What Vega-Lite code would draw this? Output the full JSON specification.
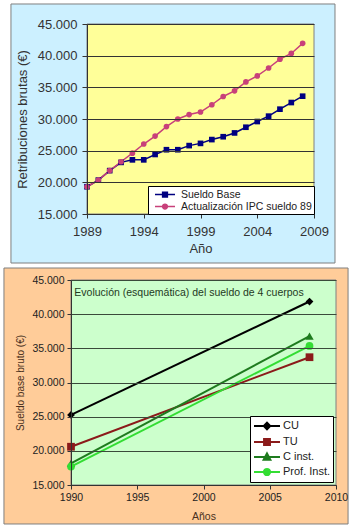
{
  "$schema": "https://vega.github.io/schema/vega-lite/v6.json",
  "background": "white",
  "padding": {"left": 3, "top": 3, "right": 0, "bottom": 0},
  "autosize": {"type": "pad"},
  "spacing": 3,
  "bounds": "full",
  "config": {"view": {"stroke": null}, "font": "Liberation Sans"},
  "resolve": {
    "scale": {"color": "independent", "x": "independent", "y": "independent", "strokeWidth": "independent"},
    "legend": {"color": "independent"}
  },
  "datasets": {
    "retrib": [
      {"year": 1989, "serie": "Sueldo Base", "value": 19300},
      {"year": 1990, "serie": "Sueldo Base", "value": 20350},
      {"year": 1991, "serie": "Sueldo Base", "value": 21850},
      {"year": 1992, "serie": "Sueldo Base", "value": 23150},
      {"year": 1993, "serie": "Sueldo Base", "value": 23550},
      {"year": 1994, "serie": "Sueldo Base", "value": 23550},
      {"year": 1995, "serie": "Sueldo Base", "value": 24400},
      {"year": 1996, "serie": "Sueldo Base", "value": 25150},
      {"year": 1997, "serie": "Sueldo Base", "value": 25150},
      {"year": 1998, "serie": "Sueldo Base", "value": 25800},
      {"year": 1999, "serie": "Sueldo Base", "value": 26150},
      {"year": 2000, "serie": "Sueldo Base", "value": 26750},
      {"year": 2001, "serie": "Sueldo Base", "value": 27200},
      {"year": 2002, "serie": "Sueldo Base", "value": 27800},
      {"year": 2003, "serie": "Sueldo Base", "value": 28700},
      {"year": 2004, "serie": "Sueldo Base", "value": 29600},
      {"year": 2005, "serie": "Sueldo Base", "value": 30450},
      {"year": 2006, "serie": "Sueldo Base", "value": 31550},
      {"year": 2007, "serie": "Sueldo Base", "value": 32600},
      {"year": 2008, "serie": "Sueldo Base", "value": 33600},
      {"year": 1989, "serie": "Actualización IPC sueldo 89", "value": 19300},
      {"year": 1990, "serie": "Actualización IPC sueldo 89", "value": 20350},
      {"year": 1991, "serie": "Actualización IPC sueldo 89", "value": 21850},
      {"year": 1992, "serie": "Actualización IPC sueldo 89", "value": 23250},
      {"year": 1993, "serie": "Actualización IPC sueldo 89", "value": 24600},
      {"year": 1994, "serie": "Actualización IPC sueldo 89", "value": 26050},
      {"year": 1995, "serie": "Actualización IPC sueldo 89", "value": 27300},
      {"year": 1996, "serie": "Actualización IPC sueldo 89", "value": 28800},
      {"year": 1997, "serie": "Actualización IPC sueldo 89", "value": 30000},
      {"year": 1998, "serie": "Actualización IPC sueldo 89", "value": 30700},
      {"year": 1999, "serie": "Actualización IPC sueldo 89", "value": 31100},
      {"year": 2000, "serie": "Actualización IPC sueldo 89", "value": 32250},
      {"year": 2001, "serie": "Actualización IPC sueldo 89", "value": 33550},
      {"year": 2002, "serie": "Actualización IPC sueldo 89", "value": 34450},
      {"year": 2003, "serie": "Actualización IPC sueldo 89", "value": 35850},
      {"year": 2004, "serie": "Actualización IPC sueldo 89", "value": 36800},
      {"year": 2005, "serie": "Actualización IPC sueldo 89", "value": 38050},
      {"year": 2006, "serie": "Actualización IPC sueldo 89", "value": 39450},
      {"year": 2007, "serie": "Actualización IPC sueldo 89", "value": 40350},
      {"year": 2008, "serie": "Actualización IPC sueldo 89", "value": 41950}
    ],
    "cuerpos": [
      {"year": 1990, "cuerpo": "CU", "value": 25250},
      {"year": 2008, "cuerpo": "CU", "value": 41850},
      {"year": 1990, "cuerpo": "TU", "value": 20600},
      {"year": 2008, "cuerpo": "TU", "value": 33700},
      {"year": 1990, "cuerpo": "C inst.", "value": 18150},
      {"year": 2008, "cuerpo": "C inst.", "value": 36800},
      {"year": 1990, "cuerpo": "Prof. Inst.", "value": 17700},
      {"year": 2008, "cuerpo": "Prof. Inst.", "value": 35350}
    ]
  },
  "vconcat": [
    {
      "width": 243,
      "height": 190,
      "data": {"name": "retrib"},
      "layer": [
        {
          "data": {"values": [{}]},
          "mark": {"type": "rect", "fill": "#CCF0FF", "stroke": "#7F7F7F", "strokeWidth": 1},
          "encoding": {
            "x": {"datum": 1982.3, "type": "quantitative"},
            "x2": {"datum": 2010.85},
            "y": {"datum": 48158, "type": "quantitative"},
            "y2": {"datum": 7263}
          }
        },
        {
          "data": {"values": [{}]},
          "mark": {"type": "rect", "fill": "#FFFF99", "stroke": "#808080", "strokeWidth": 1},
          "encoding": {
            "x": {"datum": 1989, "type": "quantitative"},
            "x2": {"datum": 2009},
            "y": {"datum": 45000, "type": "quantitative"},
            "y2": {"datum": 15000}
          }
        },
        {
          "mark": {"type": "line", "strokeWidth": 1.5},
          "encoding": {
            "x": {
              "field": "year", "type": "quantitative",
              "scale": {"domain": [1989, 2009], "range": [16, 243], "nice": false, "zero": false},
              "axis": {
                "title": "Año", "values": [1989, 1994, 1999, 2004, 2009], "tickCount": 5, "format": "d",
                "grid": false, "tickSize": 4, "labelPadding": 7, "titlePadding": 4,
                "domainColor": "#333333", "tickColor": "#333333", "labelColor": "#333333",
                "labelFontSize": 13, "titleFontSize": 13, "titleFontWeight": "normal", "titleColor": "#333333",
                "labelFlush": false, "labelOverlap": false, "zindex": 1
              }
            },
            "y": {
              "field": "value", "type": "quantitative",
              "scale": {"domain": [15000, 45000], "nice": false, "zero": false},
              "axis": {
                "title": "Retribuciones brutas (€)", "offset": -16,
                "values": [15000, 20000, 25000, 30000, 35000, 40000, 45000], "tickCount": 7,
                "labelExpr": "replace(format(datum.value, ','), ',', '.')",
                "grid": true, "gridColor": "#333333", "gridOpacity": 1, "gridWidth": 1,
                "tickSize": 5, "labelPadding": 5, "titlePadding": 8,
                "domainColor": "#333333", "tickColor": "#333333", "labelColor": "#333333",
                "labelFontSize": 13, "titleFontSize": 13, "titleFontWeight": "normal", "titleColor": "#333333",
                "labelFlush": false, "labelOverlap": false, "zindex": 1
              }
            },
            "color": {
              "field": "serie", "type": "nominal",
              "scale": {"domain": ["Sueldo Base", "Actualización IPC sueldo 89"], "range": ["#000080", "#C8407A"]},
              "legend": {
                "title": null, "orient": "bottom-right", "offset": 0, "zindex": 1,
                "fillColor": "white", "strokeColor": "#000000", "padding": 2, "rowPadding": -2,
                "labelFontSize": 10.5, "labelColor": "#222222", "labelOffset": 9.5,
                "symbolSize": 121, "symbolOffset": 8.5, "symbolStrokeWidth": 1.3,
                "symbolType": "M-1.818,0H1.818M-0.45,-0.45H0.45V0.45H-0.45Z",
                "encoding": {
                  "symbols": {
                    "shape": {"value": {"expr": "datum.value === 'Sueldo Base' ? 'M-1.818,0H1.818M-0.45,-0.45H0.45V0.45H-0.45Z' : 'M-1.818,0H1.818M-0.45,0A0.45,0.45 0 1,0 0.45,0A0.45,0.45 0 1,0 -0.45,0Z'"}},
                    "fill": {"value": {"expr": "datum.value === 'Sueldo Base' ? '#000080' : '#C8407A'"}},
                    "stroke": {"value": {"expr": "datum.value === 'Sueldo Base' ? '#000080' : '#C8407A'"}},
                    "opacity": {"value": 1}
                  }
                }
              }
            }
          }
        },
        {
          "transform": [{"filter": "datum.serie === 'Sueldo Base'"}],
          "mark": {"type": "point", "shape": "square", "filled": true, "opacity": 1, "size": 32},
          "encoding": {
            "x": {"field": "year", "type": "quantitative"},
            "y": {"field": "value", "type": "quantitative"},
            "color": {"field": "serie", "type": "nominal", "legend": null}
          }
        },
        {
          "transform": [{"filter": "datum.serie === 'Actualización IPC sueldo 89'"}],
          "mark": {"type": "point", "shape": "circle", "filled": true, "opacity": 1, "size": 32},
          "encoding": {
            "x": {"field": "year", "type": "quantitative"},
            "y": {"field": "value", "type": "quantitative"},
            "color": {"field": "serie", "type": "nominal", "legend": null}
          }
        }
      ]
    },
    {
      "width": 265,
      "height": 205,
      "data": {"name": "cuerpos"},
      "layer": [
        {
          "data": {"values": [{}]},
          "mark": {"type": "rect", "fill": "#FFCC99", "stroke": "#7F7F7F", "strokeWidth": 1},
          "encoding": {
            "x": {"datum": 1984.94, "type": "quantitative"},
            "x2": {"datum": 2010.91},
            "y": {"datum": 46756, "type": "quantitative"},
            "y2": {"datum": 9293}
          }
        },
        {
          "data": {"values": [{}]},
          "mark": {"type": "rect", "fill": "#CCFFCC", "stroke": "#808080", "strokeWidth": 1},
          "encoding": {
            "x": {"datum": 1990, "type": "quantitative"},
            "x2": {"datum": 2010},
            "y": {"datum": 45000, "type": "quantitative"},
            "y2": {"datum": 15000}
          }
        },
        {
          "data": {"values": [{"label": "Evolución (esquemática) del sueldo de 4 cuerpos"}]},
          "mark": {"type": "text", "align": "left", "baseline": "middle", "fontSize": 10.5, "color": "#1F3A1F", "font": "Liberation Sans"},
          "encoding": {
            "x": {"datum": 1990.25, "type": "quantitative"},
            "y": {"datum": 43100, "type": "quantitative"},
            "text": {"field": "label"}
          }
        },
        {
          "mark": {"type": "line"},
          "encoding": {
            "x": {
              "field": "year", "type": "quantitative",
              "scale": {"domain": [1990, 2010], "nice": false, "zero": false},
              "axis": {
                "title": "Años", "values": [1990, 1995, 2000, 2005, 2010], "tickCount": 5, "format": "d",
                "grid": false, "tickSize": 4, "labelPadding": 3, "titlePadding": 9,
                "domainColor": "#333333", "tickColor": "#333333", "labelColor": "#222222",
                "labelFontSize": 10.5, "titleFontSize": 10.5, "titleFontWeight": "normal", "titleColor": "#4A3020",
                "labelFlush": false, "labelOverlap": false, "zindex": 1
              }
            },
            "y": {
              "field": "value", "type": "quantitative",
              "scale": {"domain": [15000, 45000], "nice": false, "zero": false},
              "axis": {
                "title": "Sueldo base bruto (€)",
                "values": [15000, 20000, 25000, 30000, 35000, 40000, 45000], "tickCount": 7,
                "labelExpr": "replace(format(datum.value, ','), ',', '.')",
                "grid": true, "gridColor": "#3A4A3A", "gridOpacity": 1, "gridWidth": 1,
                "tickSize": 4, "labelPadding": 3, "titlePadding": 6,
                "domainColor": "#333333", "tickColor": "#333333", "labelColor": "#222222",
                "labelFontSize": 10.5, "titleFontSize": 10, "titleFontWeight": "normal", "titleColor": "#4A3020",
                "labelFlush": false, "labelOverlap": false, "zindex": 1
              }
            },
            "color": {
              "field": "cuerpo", "type": "nominal",
              "scale": {"domain": ["CU", "TU", "C inst.", "Prof. Inst."], "range": ["#000000", "#8B1A1A", "#1E7B1E", "#33DD33"]},
              "legend": {
                "title": null, "orient": "bottom-right", "offset": 3, "zindex": 1,
                "fillColor": "white", "strokeColor": "#000000", "padding": 2, "rowPadding": -1,
                "labelFontSize": 11, "labelColor": "#222222", "labelOffset": 8,
                "symbolSize": 196, "symbolOffset": 7, "symbolStrokeWidth": 2,
                "symbolType": "M-1.857,0H1.857M-0.42,-0.42H0.42V0.42H-0.42Z",
                "encoding": {
                  "symbols": {
                    "shape": {"value": {"expr": "datum.value === 'CU' ? 'M-1.857,0H1.857M0,-0.46L0.46,0L0,0.46L-0.46,0Z' : datum.value === 'TU' ? 'M-1.857,0H1.857M-0.42,-0.42H0.42V0.42H-0.42Z' : datum.value === 'C inst.' ? 'M-1.857,0H1.857M0,-0.52L0.48,0.38H-0.48Z' : 'M-1.857,0H1.857M-0.44,0A0.44,0.44 0 1,0 0.44,0A0.44,0.44 0 1,0 -0.44,0Z'"}},
                    "fill": {"value": {"expr": "datum.value === 'CU' ? '#000000' : datum.value === 'TU' ? '#8B1A1A' : datum.value === 'C inst.' ? '#1E7B1E' : '#33DD33'"}},
                    "stroke": {"value": {"expr": "datum.value === 'CU' ? '#000000' : datum.value === 'TU' ? '#8B1A1A' : datum.value === 'C inst.' ? '#1E7B1E' : '#33DD33'"}},
                    "opacity": {"value": 1}
                  }
                }
              }
            },
            "strokeWidth": {
              "field": "cuerpo", "type": "nominal",
              "scale": {"domain": ["CU", "TU", "C inst.", "Prof. Inst."], "range": [2, 2, 2, 3]},
              "legend": null
            }
          }
        },
        {
          "transform": [{"filter": "datum.cuerpo === 'CU'"}],
          "mark": {"type": "point", "shape": "diamond", "filled": true, "opacity": 1, "size": 60},
          "encoding": {
            "x": {"field": "year", "type": "quantitative"},
            "y": {"field": "value", "type": "quantitative"},
            "color": {"field": "cuerpo", "type": "nominal", "legend": null}
          }
        },
        {
          "transform": [{"filter": "datum.cuerpo === 'TU'"}],
          "mark": {"type": "point", "shape": "square", "filled": true, "opacity": 1, "size": 60},
          "encoding": {
            "x": {"field": "year", "type": "quantitative"},
            "y": {"field": "value", "type": "quantitative"},
            "color": {"field": "cuerpo", "type": "nominal", "legend": null}
          }
        },
        {
          "transform": [{"filter": "datum.cuerpo === 'C inst.'"}],
          "mark": {"type": "point", "shape": "triangle-up", "filled": true, "opacity": 1, "size": 70},
          "encoding": {
            "x": {"field": "year", "type": "quantitative"},
            "y": {"field": "value", "type": "quantitative"},
            "color": {"field": "cuerpo", "type": "nominal", "legend": null}
          }
        },
        {
          "transform": [{"filter": "datum.cuerpo === 'Prof. Inst.'"}],
          "mark": {"type": "point", "shape": "circle", "filled": true, "opacity": 1, "size": 60},
          "encoding": {
            "x": {"field": "year", "type": "quantitative"},
            "y": {"field": "value", "type": "quantitative"},
            "color": {"field": "cuerpo", "type": "nominal", "legend": null}
          }
        }
      ]
    }
  ]
}
